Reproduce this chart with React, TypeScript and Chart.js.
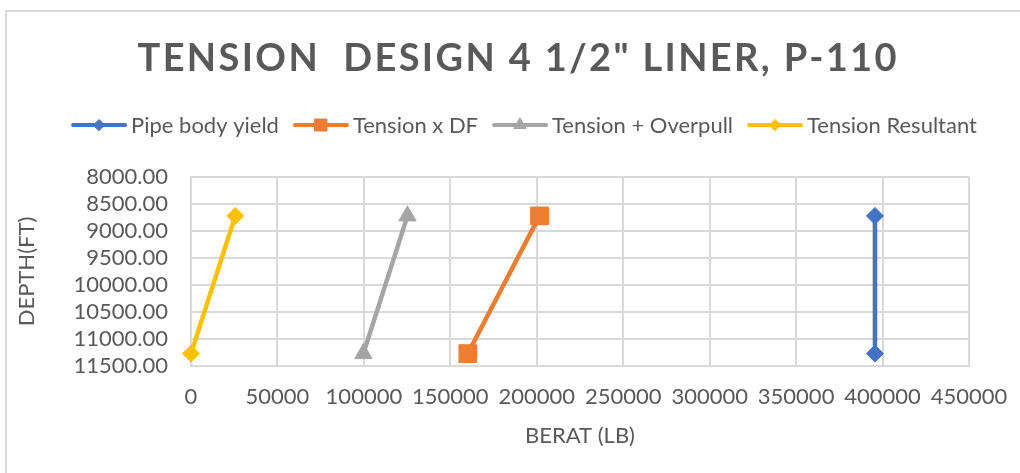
import React, { useEffect, useRef } from 'react';
import { Chart, registerables } from 'chart.js';
import { drawPoint } from 'chart.js/helpers';

Chart.register(...registerables);

// ---- data ----
const TITLE = 'TENSION  DESIGN 4 1/2" LINER, P-110';
const X_TITLE = 'BERAT (LB)';
const Y_TITLE = 'DEPTH(FT)';
const seriesNames = ['Pipe body yield', 'Tension x DF', 'Tension + Overpull', 'Tension Resultant'];
const depths = [8720, 11270];
const pipeBodyYield = [395600, 395600];
const tensionDF = [201600, 160100];
const tensionOverpull = [125200, 99700];
const tensionResultant = [25600, 0];
const xTickValues = [0, 50000, 100000, 150000, 200000, 250000, 300000, 350000, 400000, 450000];
const yTickValues = [8000, 8500, 9000, 9500, 10000, 10500, 11000, 11500];

const colors = ['#4472C4', '#ED7D31', '#A5A5A5', '#FFC000'];
const pointStyles = ['rectRot', 'rect', 'triangle', 'rectRot'];
const pointRadii = [8.5, 12.5, 10, 8.5];
const legendRadii = [5.5, 8.5, 7, 5.5];
const TEXT = '#595959';
const GRID = '#D9D9D9';
const FONT = 'Lato';
const FS = 22;

const titlePlugin = {
  id: 'spacedTitle',
  afterDraw(chart: any) {
    const ctx = chart.ctx as CanvasRenderingContext2D;
    ctx.save();
    ctx.font = `bold 38px ${FONT}`;
    ctx.fillStyle = TEXT;
    ctx.textBaseline = 'middle';
    ctx.textAlign = 'left';
    (ctx as any).letterSpacing = '0px';
    const raw = ctx.measureText(TITLE).width;
    const targetW = 759;
    const ls = Math.max(0, (targetW - raw) / (TITLE.length - 1));
    (ctx as any).letterSpacing = `${ls}px`;
    ctx.fillText(TITLE, 517 - targetW / 2, 59);
    ctx.restore();
  },
};

const legendPlugin = {
  id: 'lineLegend',
  afterDraw(chart: any) {
    const ctx = chart.ctx as CanvasRenderingContext2D;
    ctx.save();
    ctx.font = `${FS}px ${FONT}`;
    ctx.textBaseline = 'middle';
    ctx.textAlign = 'left';
    const lineW = 56;
    const gapText = 4;
    const gapItem = 14;
    const datasets = chart.data.datasets;
    const widths = datasets.map((ds: any) => lineW + gapText + ctx.measureText(ds.label).width);
    const total = widths.reduce((s: number, w: number) => s + w, 0) + gapItem * (datasets.length - 1);
    let x = 524 - total / 2;
    const y = 125;
    datasets.forEach((ds: any, i: number) => {
      ctx.strokeStyle = ds.borderColor;
      ctx.lineWidth = 4;
      ctx.lineCap = 'round';
      ctx.beginPath();
      ctx.moveTo(x + 2, y);
      ctx.lineTo(x + lineW - 2, y);
      ctx.stroke();
      ctx.fillStyle = ds.backgroundColor;
      ctx.strokeStyle = ds.borderColor;
      ctx.lineWidth = 1;
      drawPoint(ctx, { pointStyle: ds.pointStyle, radius: legendRadii[i], borderWidth: 1, rotation: 0 } as any, x + lineW / 2, y);
      ctx.fillStyle = TEXT;
      ctx.fillText(ds.label, x + lineW + gapText, y + 1);
      x += widths[i] + gapItem;
    });
    ctx.restore();
  },
};

export default function App() {
  const ref = useRef<HTMLCanvasElement>(null);

  useEffect(() => {
    if (!ref.current) return;
    const series = [pipeBodyYield, tensionDF, tensionOverpull, tensionResultant];
    const chart = new Chart(ref.current, {
      type: 'scatter',
      data: {
        datasets: series.map((vals, i) => ({
          label: seriesNames[i],
          data: depths.map((d, j) => ({ x: vals[j], y: d })),
          showLine: true,
          borderColor: colors[i],
          backgroundColor: colors[i],
          borderWidth: 4.5,
          pointStyle: pointStyles[i] as any,
          pointRadius: pointRadii[i],
          pointHoverRadius: pointRadii[i],
          pointBorderWidth: 1,
          tension: 0,
          clip: false as any,
        })),
      },
      options: {
        animation: false,
        responsive: false,
        layout: { padding: { top: 177, left: 0, right: 0, bottom: 0 } },
        plugins: {
          legend: { display: false },
          title: { display: false },
          tooltip: { enabled: false },
        },
        scales: {
          x: {
            type: 'linear',
            min: xTickValues[0],
            max: xTickValues[xTickValues.length - 1],
            afterBuildTicks: (scale: any) => {
              scale.ticks = xTickValues.map((v) => ({ value: v }));
            },
            afterFit: (scale: any) => {
              scale.height = 473 - 366;
              scale.paddingRight = 51;
            },
            grid: { color: GRID, lineWidth: 2, drawTicks: false },
            border: { display: true, color: GRID, width: 2 },
            ticks: {
              color: TEXT,
              font: { family: FONT, size: FS },
              padding: 18,
              maxRotation: 0,
              autoSkip: false,
              callback: (v: any) => String(v),
            },
            title: {
              display: true,
              text: X_TITLE,
              color: TEXT,
              font: { family: FONT, size: FS },
              padding: { top: 0, bottom: 24 },
            },
          },
          y: {
            type: 'linear',
            reverse: true,
            min: yTickValues[0],
            max: yTickValues[yTickValues.length - 1],
            afterBuildTicks: (scale: any) => {
              scale.ticks = yTickValues.map((v) => ({ value: v }));
            },
            afterFit: (scale: any) => {
              scale.width = 191;
            },
            grid: { color: GRID, lineWidth: 2, drawTicks: false },
            border: { display: true, color: GRID, width: 2 },
            ticks: {
              color: TEXT,
              font: { family: FONT, size: FS },
              padding: 23,
              autoSkip: false,
              callback: (v: any) => Number(v).toFixed(2),
            },
            title: {
              display: true,
              text: Y_TITLE,
              color: TEXT,
              font: { family: FONT, size: FS },
              padding: { top: 14, bottom: 0 },
            },
          },
        },
      },
      plugins: [titlePlugin, legendPlugin],
    });
    return () => chart.destroy();
  }, []);

  return (
    <div style={{ position: 'absolute', left: 0, top: 0, width: 1020, height: 473, background: '#fff', overflow: 'hidden' }}>
      <div
        style={{
          position: 'absolute',
          left: 5,
          top: 10,
          width: 1100,
          height: 600,
          borderLeft: `2px solid ${GRID}`,
          borderTop: `2px solid ${GRID}`,
        }}
      />
      <canvas ref={ref} width={1020} height={473} style={{ position: 'absolute', left: 0, top: 0, display: 'block' }} />
    </div>
  );
}
